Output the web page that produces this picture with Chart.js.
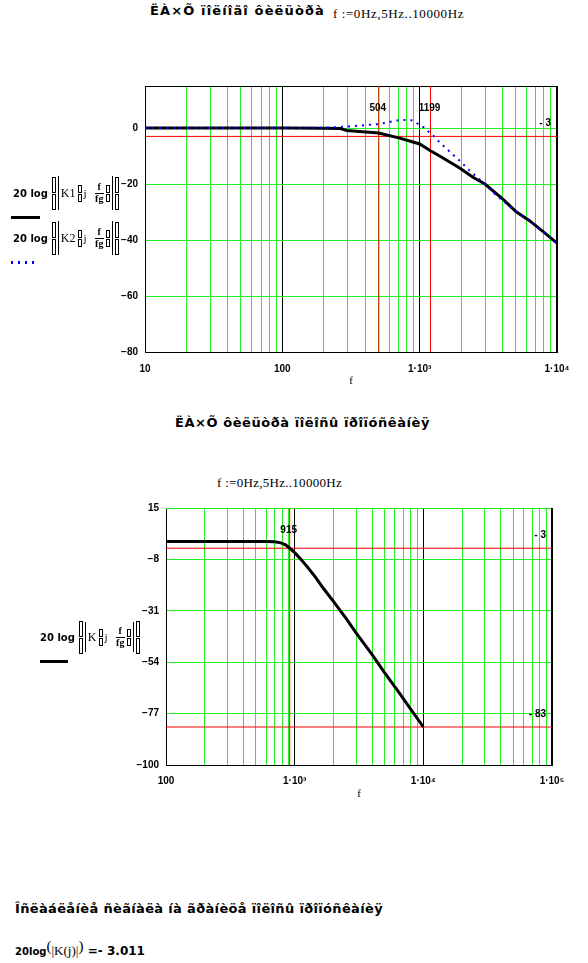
<!DOCTYPE html>
<html>
<head>
<meta charset="utf-8">
<script src="https://cdn.jsdelivr.net/npm/chart.js@4.4.1/dist/chart.umd.min.js"></script>
<style>
body{margin:0;width:588px;height:963px;background:#fff;position:relative;overflow:hidden;color:#000}
canvas{position:absolute;left:0}
.t{position:absolute;white-space:nowrap;line-height:1}
.hd{font:bold 13px "DejaVu Sans",sans-serif}
.rg{font:13px "Liberation Serif",serif}
.fm{position:absolute;display:flex;align-items:center;gap:2px;height:34px}
.fm b{font:bold 10px "DejaVu Sans",sans-serif;margin-right:2px}
.pp{display:flex;flex-direction:column;gap:1px}
.pp i{display:block;border:1px solid #000;width:2px}
.pp.big i{height:14px}
.pp.sm i{height:6px}
.vb{width:1px;background:#000;align-self:stretch}
.kn{font:12px "Liberation Serif",serif}
.jj{font:11px "Liberation Serif",serif;margin-right:6px}
.fr{display:flex;flex-direction:column;align-items:center;font:bold 10px "Liberation Serif",serif;line-height:1}
.fr span:first-child{border-bottom:1px solid #000;padding:0 3px 1px}
.sw{position:absolute;background:#000;height:3px}
.dot{position:absolute;background:#0000ff;width:2px;height:3px}
</style>
</head>
<body>
<div class="t hd fit" data-w="175" style="left:150px;top:3px">ËÀ×Õ ïîëíîãî ôèëüòðà</div>
<div class="t rg fit" data-w="131" style="left:333px;top:6px">f :=0Hz,5Hz..10000Hz</div>

<canvas id="chart1" width="588" height="335" style="top:60px"></canvas>

<div class="fm" style="left:13px;top:176px">
  <b>20 log</b><span class="pp big"><i></i><i></i></span><span class="vb"></span>
  <span class="kn">K1</span><span class="pp sm"><i></i><i></i></span><span class="jj">j</span>
  <span class="fr"><span>f</span><span>fg</span></span><span class="pp sm"><i></i><i></i></span>
  <span class="vb"></span><span class="pp big"><i></i><i></i></span>
</div>
<div class="sw" style="left:11px;top:216px;width:29px"></div>
<div class="fm" style="left:13px;top:221px">
  <b>20 log</b><span class="pp big"><i></i><i></i></span><span class="vb"></span>
  <span class="kn">K2</span><span class="pp sm"><i></i><i></i></span><span class="jj">j</span>
  <span class="fr"><span>f</span><span>fg</span></span><span class="pp sm"><i></i><i></i></span>
  <span class="vb"></span><span class="pp big"><i></i><i></i></span>
</div>
<div class="dot" style="left:11px;top:261px"></div>
<div class="dot" style="left:18px;top:261px"></div>
<div class="dot" style="left:25px;top:261px"></div>
<div class="dot" style="left:32px;top:261px"></div>

<div class="t hd fit" data-w="255" style="left:175px;top:415px">ËÀ×Õ ôèëüòðà ïîëîñû ïðîïóñêàíèÿ</div>
<div class="t rg fit" data-w="125" style="left:217px;top:475px">f :=0Hz,5Hz..10000Hz</div>

<canvas id="chart2" width="588" height="320" style="top:490px"></canvas>

<div class="fm" style="left:40px;top:622px;height:30px">
  <b>20 log</b><span class="pp big"><i></i><i></i></span><span class="vb"></span>
  <span class="kn">K</span><span class="pp sm"><i></i><i></i></span><span class="jj">j</span>
  <span class="fr"><span>f</span><span>fg</span></span><span class="pp sm"><i></i><i></i></span>
  <span class="vb"></span><span class="pp big"><i></i><i></i></span>
</div>
<div class="sw" style="left:40px;top:660px;width:28px"></div>

<div class="t hd fit" data-w="368" style="left:15px;top:901px">Îñëàáëåíèå ñèãíàëà íà ãðàíèöå ïîëîñû ïðîïóñêàíèÿ</div>
<div class="t fit" data-w="130" style="left:15px;top:938px"><span style="font:bold 10px 'DejaVu Sans',sans-serif">20log</span><span style="font:15px 'Liberation Serif',serif;vertical-align:4px">(</span><span style="font:13px 'Liberation Serif',serif">|K(j)|</span><span style="font:15px 'Liberation Serif',serif;vertical-align:4px">)</span><span style="font:bold 12px 'DejaVu Sans',sans-serif"> =- 3.011</span></div>

<script>
// ЛАЧХ K1 и K2 (верхний график)
const freqK1 = [10, 113, 198, 265, 295, 346, 504, 715, 894, 1000, 1199, 1479, 1955, 2443, 2985, 4036, 5046, 6310, 7890, 10000];
const dbK1 = [0, 0, -0.1, -0.2, -0.9, -1.2, -1.8, -3.6, -5.0, -5.7, -8.1, -10.7, -14.3, -17.6, -20, -25.4, -29.9, -33.1, -36.9, -41.1];
const freqK2 = [10, 113, 198, 248, 310, 387, 504, 572, 676, 778, 869, 946, 1000, 1087, 1199, 1250, 1397, 1652, 1955, 2376, 2985, 3612, 5046, 6310, 10000];
const dbK2 = [0, 0, 0.1, 0.3, 0.6, 0.95, 1.4, 1.9, 2.7, 2.9, 2.8, 2.0, 0.8, 0.2, -2.1, -2.6, -5.1, -8.4, -11.7, -15.8, -20, -24.1, -29.9, -33.1, -41.1];

// ЛАЧХ K (нижний график)
const freqK = [100, 300, 600, 700, 780, 850, 915, 1000, 1086, 1236, 1450, 1664, 2028, 2500, 3030, 4000, 4963, 6500, 8000, 10000];
const dbK = [0, 0, 0, -0.1, -0.6, -1.5, -3, -5.0, -7.2, -10.9, -15.9, -20.8, -27.2, -34.3, -41.2, -50.6, -58.4, -67.7, -75.1, -83];

// оси
const decades1 = [10, 100, 1000, 10000];
const yTicks1 = [-80, -60, -40, -20, 0];
const yMax1 = 15;
const decades2 = [100, 1000, 10000, 100000];
const yTicks2 = [-100, -77, -54, -31, -8, 15];

// маркеры
const markX1 = [504, 1199];
const markY1 = [-3];
const markX2 = [915];
const markY2 = [-3, -83];

const GREEN = '#22ee22';
const RED = '#ff0000';
const sup = {3: '³', 4: '⁴', 5: '⁵'};

document.querySelectorAll('.fit').forEach(el => {
    const w = el.getBoundingClientRect().width;
    const n = el.textContent.length;
    el.style.letterSpacing = ((+el.dataset.w - w) / n) + 'px';
});

const decadeGrid = (decades) => {
    const out = [];
    for (let d = 0; d < decades.length - 1; d++) {
        for (let m = 1; m < 10; m++) out.push(decades[d] * m);
    }
    out.push(decades[decades.length - 1]);
    return out;
};
const isDecade = v => Math.abs(Math.log10(v) - Math.round(Math.log10(v))) < 1e-9;
const decadeLabel = v => {
    const e = Math.round(Math.log10(v));
    return e <= 2 ? String(v) : '1·10' + sup[e];
};
const dbLabel = v => v < 0 ? '\u2212' + Math.abs(v) : String(v);
const pts = (xs, ys) => xs.map((x, i) => ({x: x, y: ys[i]}));

// рамка и подписи маркеров
const extras = {
    id: 'extras',
    beforeDatasetsDraw(chart, args, o) {
        const a = chart.chartArea, ctx = chart.ctx;
        ctx.save();
        ctx.lineWidth = 1;
        ctx.strokeStyle = o.topColor;
        ctx.beginPath();
        ctx.moveTo(a.left, a.top + 0.5);
        ctx.lineTo(a.right, a.top + 0.5);
        ctx.stroke();
        ctx.strokeStyle = '#000';
        ctx.beginPath();
        ctx.moveTo(a.right - 0.5, a.top);
        ctx.lineTo(a.right - 0.5, a.bottom);
        ctx.stroke();
        ctx.restore();
    },
    afterDatasetsDraw(chart, args, o) {
        const a = chart.chartArea, ctx = chart.ctx;
        const sx = chart.scales.x, sy = chart.scales.y;
        ctx.save();
        ctx.fillStyle = '#000';
        ctx.font = 'bold 10px "Liberation Sans", Arial, sans-serif';
        ctx.textBaseline = 'middle';
        ctx.textAlign = 'center';
        o.markX.forEach(v => ctx.fillText(String(v), sx.getPixelForValue(v) - 1, a.top + 22));
        ctx.textAlign = 'right';
        o.markY.forEach(v => ctx.fillText('- ' + Math.abs(v), a.right - 6, sy.getPixelForValue(v) - o.yLift));
        ctx.textAlign = 'center';
        ctx.font = '11px "Liberation Serif", serif';
        ctx.fillText('f', (a.left + a.right) / 2, a.bottom + 29);
        ctx.restore();
    }
};

const makeChart = (id, cfg) => {
    const xGrid = decadeGrid(cfg.decades);
    const xMin = cfg.decades[0], xMax = cfg.decades[cfg.decades.length - 1];
    const datasets = cfg.series.map(s => Object.assign({
        pointRadius: 0, tension: 0, fill: false
    }, s));
    cfg.markX.forEach(v => datasets.push({
        data: [{x: v, y: cfg.yMin}, {x: v, y: cfg.yMax}],
        borderColor: RED, borderWidth: 1, pointRadius: 0, order: 5
    }));
    cfg.markY.forEach(v => datasets.push({
        data: [{x: xMin, y: v}, {x: xMax, y: v}],
        borderColor: RED, borderWidth: 1, pointRadius: 0, order: 5
    }));
    const tickFont = {family: '"Liberation Sans", Arial, sans-serif', size: 10, weight: 'bold'};
    return new Chart(document.getElementById(id), {
        type: 'line',
        data: {datasets: datasets},
        plugins: [extras],
        options: {
            responsive: false,
            animation: false,
            events: [],
            layout: {padding: {top: cfg.padTop, right: cfg.padRight, left: 0, bottom: 0}},
            plugins: {
                legend: {display: false},
                tooltip: {enabled: false},
                extras: {markX: cfg.markX, markY: cfg.markY, topColor: cfg.topColor, yLift: 13}
            },
            scales: {
                x: {
                    type: 'logarithmic',
                    min: xMin,
                    max: xMax,
                    afterBuildTicks: s => { s.ticks = xGrid.map(v => ({value: v})); },
                    afterFit: s => { s.height = cfg.xHeight; },
                    grid: {
                        color: c => isDecade(c.tick.value) ? '#000' : GREEN,
                        drawTicks: false
                    },
                    border: {color: '#000'},
                    ticks: {
                        autoSkip: false, maxRotation: 0, padding: cfg.xPad,
                        color: '#000', font: tickFont,
                        callback: v => isDecade(v) ? decadeLabel(v) : ''
                    }
                },
                y: {
                    min: cfg.yMin,
                    max: cfg.yMax,
                    afterBuildTicks: s => { s.ticks = cfg.yTicks.map(v => ({value: v})); },
                    afterFit: s => { s.width = cfg.yWidth; },
                    grid: {color: GREEN, drawTicks: false},
                    border: {color: '#000'},
                    ticks: {padding: 7, color: '#000', font: tickFont, callback: v => dbLabel(v)}
                }
            }
        }
    });
};

makeChart('chart1', {
    decades: decades1, yTicks: yTicks1, yMin: yTicks1[0], yMax: yMax1,
    markX: markX1, markY: markY1, topColor: '#000',
    padTop: 26, padRight: 31, yWidth: 145, xHeight: 43, xPad: 11,
    series: [
        {data: pts(freqK2, dbK2), borderColor: '#0000ff', borderWidth: 2, borderDash: [2, 5], order: 0},
        {data: pts(freqK1, dbK1), borderColor: '#000', borderWidth: 3, order: 1}
    ]
});

makeChart('chart2', {
    decades: decades2, yTicks: yTicks2, yMin: yTicks2[0], yMax: yTicks2[yTicks2.length - 1],
    markX: markX2, markY: markY2, topColor: GREEN,
    padTop: 18, padRight: 36, yWidth: 166, xHeight: 45, xPad: 10,
    series: [
        {data: pts(freqK, dbK), borderColor: '#000', borderWidth: 3, order: 1}
    ]
});
</script>
</body>
</html>
